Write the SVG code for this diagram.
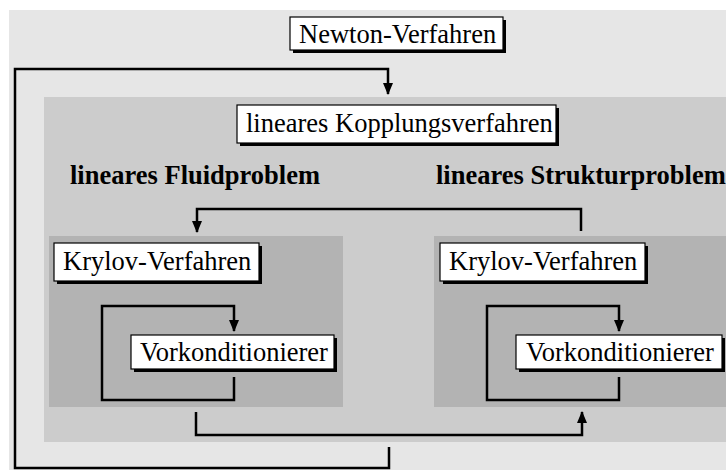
<svg xmlns="http://www.w3.org/2000/svg" width="726" height="470" viewBox="0 0 726 470">
<defs>
<style>
.lbl{font-family:"Liberation Serif","Times New Roman",serif;font-size:26.5px;fill:#000}
.hdr{font-family:"Liberation Serif","Times New Roman",serif;font-size:26.5px;font-weight:bold;fill:#000}
.box{fill:#fff;stroke:#000;stroke-width:1.2}
.shadow{fill:#000}
.conn{fill:none;stroke:#000;stroke-width:2.5}
</style>
<marker id="arr" viewBox="0 0 12 10" markerWidth="12" markerHeight="10" markerUnits="userSpaceOnUse" refX="11" refY="5" orient="auto">
<path d="M0,0 L12,5 L0,10 z" fill="#000"/>
</marker>
</defs>
<rect width="726" height="470" fill="#fff"/>
<g id="newton-region"><rect x="9" y="10" width="717" height="460" fill="#e6e6e6"/></g>
<g id="kopplung-region"><rect x="44" y="97" width="682" height="345" fill="#cccccc"/></g>
<g id="fluid-region"><rect x="49" y="236" width="294" height="171" fill="#b3b3b3"/></g>
<g id="struktur-region"><rect x="434" y="236" width="292" height="171" fill="#b3b3b3"/></g>

<g id="connectors">
<path class="conn" d="M389,447 V468 H15 V69 H388 V94" marker-end="url(#arr)"/>
<path class="conn" d="M581,231 V209 H197 V232" marker-end="url(#arr)"/>
<path class="conn" d="M196,412 V435 H582 V412" marker-end="url(#arr)"/>
<path class="conn" d="M234,377 V400 H102 V306 H234 V331" marker-end="url(#arr)"/>
<path class="conn" d="M619,377 V400 H487 V306 H619 V331" marker-end="url(#arr)"/>
</g>

<g id="newton">
<rect class="shadow" x="293" y="20" width="213" height="33"/>
<rect class="box" x="290" y="17" width="213" height="33"/>
<text class="lbl" x="299" y="43">Newton-Verfahren</text>
</g>
<g id="kopplung">
<rect class="shadow" x="240" y="108" width="319" height="38"/>
<rect class="box" x="237" y="105" width="319" height="38"/>
<text class="lbl" x="246" y="132">lineares Kopplungsverfahren</text>
</g>
<g id="fluid-label"><text class="hdr" x="70" y="184">lineares Fluidproblem</text></g>
<g id="struktur-label"><text class="hdr" x="436" y="184">lineares Strukturproblem</text></g>
<g id="krylov-fluid">
<rect class="shadow" x="57" y="246" width="205" height="38"/>
<rect class="box" x="54" y="243" width="205" height="38"/>
<text class="lbl" x="63" y="270">Krylov-Verfahren</text>
</g>
<g id="krylov-struktur">
<rect class="shadow" x="443" y="246" width="205" height="38"/>
<rect class="box" x="440" y="243" width="205" height="38"/>
<text class="lbl" x="449" y="270">Krylov-Verfahren</text>
</g>
<g id="vorkond-fluid">
<rect class="shadow" x="134" y="338" width="203" height="34"/>
<rect class="box" x="131" y="335" width="203" height="34"/>
<text class="lbl" x="140" y="361">Vorkonditionierer</text>
</g>
<g id="vorkond-struktur">
<rect class="shadow" x="519" y="338" width="206" height="34"/>
<rect class="box" x="516" y="335" width="206" height="34"/>
<text class="lbl" x="526" y="361">Vorkonditionierer</text>
</g>
</svg>
